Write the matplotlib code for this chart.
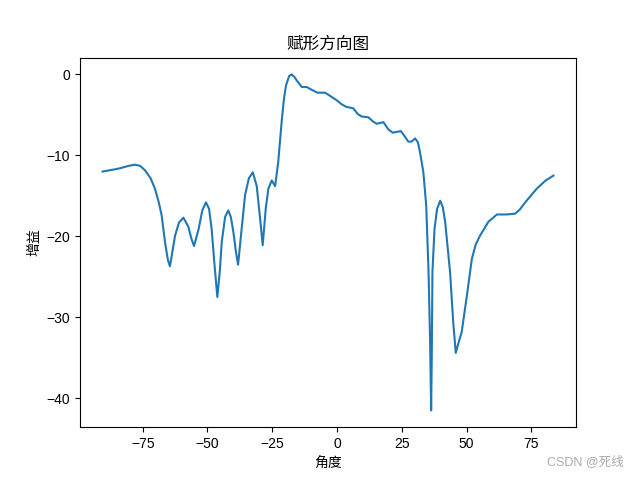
import matplotlib
matplotlib.use('Agg')
from matplotlib import pyplot as plt

plt.rcParams['font.family'] = ['Liberation Sans', 'Noto Sans CJK SC', 'DejaVu Sans']

# angle (deg) and gain (dB)
angle = [-90.5, -87, -83.8, -80.5, -78, -76, -74.1, -72, -70.3, -68.8, -67.7, -66.4, -65.3, -64.5,
         -63.5, -62.5, -61, -59.3, -57.4, -56.2, -55.2, -53.5, -52, -50.6, -49.4, -48.4, -47.3, -46.2,
         -45.3, -44.5, -43.2, -42.0, -41, -40, -39, -38.2, -36.8, -35.5, -34, -32.5, -31, -29.7, -28.7,
         -27.5, -26.5, -25.2, -23.9, -22.7, -21.4, -20.5, -19.7, -18.5, -17.5, -16.5, -15.6, -13.6,
         -11.7, -9.8, -7.6, -4.6, -2, -0.1, 1.8, 3.5, 6.3, 8, 9.5, 12.1, 13.8, 15.3, 17.9, 19.8, 21.5,
         24.6, 26, 27.5, 28.8, 30.1, 31.2, 32.0, 33.3, 34.4, 35.3, 35.9, 36.3, 36.6, 36.8, 37.6, 38.6,
         39.8, 40.8, 41.7, 43.6, 44.8, 45.8, 47, 48.1, 50.1, 52.0, 53.5, 55.2, 58.4, 61.7, 65.5, 68.7,
         70.5, 72.6, 77.1, 80.5, 83.5]
gain = [-12.0, -11.8, -11.6, -11.3, -11.15, -11.3, -11.85, -12.8, -14.1, -15.8, -17.4, -20.7, -22.9, -23.7,
        -21.8, -19.9, -18.3, -17.7, -18.8, -20.3, -21.2, -19.2, -16.8, -15.8, -16.6, -19.1, -23.5, -27.5,
        -24.5, -20.7, -17.6, -16.8, -17.6, -19.5, -22.0, -23.5, -19.0, -14.9, -12.8, -12.1, -13.8, -17.8, -21.1,
        -16.5, -14.1, -13.1, -13.8, -10.8, -5.9, -3.0, -1.36, -0.2, 0.0, -0.3, -0.74, -1.56,
        -1.56, -1.9, -2.26, -2.26, -2.8, -3.2, -3.7, -4.0, -4.2, -4.9, -5.2, -5.3, -5.8, -6.1, -5.9, -6.8, -7.2,
        -7.0, -7.6, -8.3, -8.3, -7.9, -8.4, -9.6, -12.1, -16.2, -24.4, -33, -41.5, -33, -24.4, -19.1, -16.6,
        -15.6, -16.4, -18.2, -24.4, -30.5, -34.4, -33.0, -31.8, -27.3, -22.8, -21.0, -19.9, -18.2, -17.3, -17.3, -17.2,
        -16.7, -15.8, -14.1, -13.1, -12.5]

plt.figure(figsize=(6.4, 4.8), dpi=100)
plt.plot(angle, gain)
plt.title('赋形方向图')
plt.xlabel('角度')
plt.ylabel('增益')
plt.gcf().text(0.975, 0.025, 'CSDN @死线', ha='right', va='bottom', color='#aaaaaa', fontsize=9)
plt.savefig('out.png')
